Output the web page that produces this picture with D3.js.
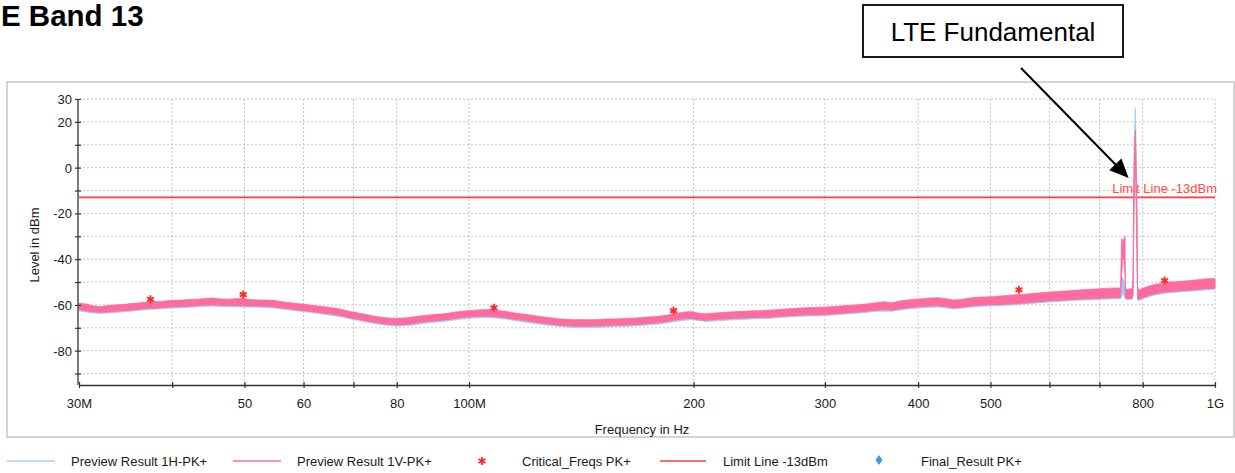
<!DOCTYPE html>
<html><head><meta charset="utf-8">
<script src="https://cdn.jsdelivr.net/npm/d3@7"></script>
<style>
html,body{margin:0;padding:0;background:#fff;}
svg{display:block;font-family:"Liberation Sans",Arial,sans-serif;}
</style></head><body>
<svg id="chart" width="1235" height="473"></svg>
<script>
// ---------------- data ----------------
const titleText = "E Band 13"; // visible part of the (left-cropped) title
const annotationText = "LTE Fundamental";
const annotationTarget = [766, -4.5]; // MHz, dBm (arrow tip)
const xTickValues = [30, 40, 50, 60, 70, 80, 100, 200, 300, 400, 500, 600, 700, 800, 1000]; // MHz
const xTickLabels = ["30M", "", "50", "60", "", "80", "100M", "200", "300", "400", "500", "", "", "800", "1G"];
const yTickValues = [-90, -80, -70, -60, -50, -40, -30, -20, -10, 0, 10, 20, 30];
const yTickLabels = ["", "-80", "", "-60", "", "-40", "", "-20", "", "0", "", "20", "30"];
const limitLevel = -13;
const limitLabel = "Limit Line -13dBm";
const xTitle = "Frequency in Hz";
const yTitle = "Level in dBm";

// Preview Result 1V-PK+ : [MHz, band low dBm, band high dBm]
const trace1V = [
[30,-62.0,-59.3],[30.7,-62.6,-59.6],[31.3,-63.0,-60.4],[32,-63.2,-60.8],[32.8,-63.1,-60.3],[33.5,-62.8,-60.0],
[34.4,-62.6,-59.8],[35.2,-62.3,-59.4],[36,-62.0,-59.2],[36.8,-61.6,-58.8],[37.6,-61.5,-58.5],[38.5,-61.4,-58.6],
[39.4,-61.0,-58.2],[40.3,-60.8,-58.0],[41.3,-60.7,-57.9],[42.3,-60.6,-57.6],[43.3,-60.3,-57.5],[44.3,-60.1,-57.2],
[45.3,-60.0,-57.0],[46.4,-60.2,-57.4],[47.5,-60.3,-57.5],[48.6,-60.2,-57.3],[49.8,-60.4,-57.2],[51,-60.4,-57.7],
[52.2,-60.5,-57.8],[53.5,-60.6,-57.9],[54.8,-60.9,-58.0],[56.1,-61.3,-58.6],[57.4,-61.7,-59.0],[58.8,-62.1,-59.4],
[60.2,-62.5,-59.7],[61.7,-62.9,-60.2],[63.2,-63.4,-60.6],[64.7,-63.8,-61.0],[66.3,-64.3,-61.5],[67.9,-65.0,-62.2],
[69.5,-65.7,-63.0],[71.2,-66.4,-63.6],[72.9,-67.0,-64.2],[74.6,-67.6,-64.9],[76.4,-68.1,-65.4],[78.3,-68.6,-65.8],
[80.2,-68.7,-65.8],[82.1,-68.6,-65.7],[84.1,-68.2,-65.3],[86.1,-67.6,-64.8],[88.2,-67.2,-64.5],[90.3,-66.9,-64.1],
[92.5,-66.6,-63.9],[94.7,-66.2,-63.4],[97,-65.7,-62.9],[99.3,-65.3,-62.6],[101.7,-65.1,-62.3],[104.2,-64.9,-62.1],
[106.7,-64.9,-62.0],[109.2,-65.2,-62.4],[111.9,-65.6,-62.8],[114.6,-66.2,-63.4],[117.3,-66.6,-63.9],[120.2,-67.1,-64.3],
[123.1,-67.6,-64.8],[126,-68.1,-65.3],[129.1,-68.5,-65.7],[132.2,-68.9,-66.1],[135.4,-69.1,-66.3],[138.6,-69.3,-66.5],
[142,-69.3,-66.4],[145.4,-69.3,-66.5],[148.9,-69.2,-66.4],[152.5,-69.0,-66.2],[156.2,-68.9,-66.1],[160,-68.8,-66.0],
[163.8,-68.7,-65.8],[167.8,-68.6,-65.7],[171.8,-68.3,-65.4],[176,-68.0,-65.2],[180.2,-67.7,-64.9],[184.6,-67.2,-64.4],
[189,-66.6,-63.8],[193.6,-66.1,-63.2],[198.3,-65.8,-62.9],[203.1,-66.5,-63.6],[208,-66.7,-63.9],[213,-66.4,-63.6],
[218.2,-66.2,-63.3],[223.5,-66.0,-63.1],[228.9,-65.8,-62.9],[234.4,-65.7,-62.8],[240.1,-65.5,-62.6],[245.9,-65.4,-62.5],
[251.8,-65.4,-62.3],[257.9,-65.2,-62.1],[264.1,-64.9,-61.9],[270.5,-64.7,-61.6],[277,-64.5,-61.4],[283.7,-64.3,-61.2],
[290.6,-64.3,-61.1],[297.6,-64.2,-61.0],[304.8,-64.0,-60.8],[312.1,-63.8,-60.6],[319.7,-63.5,-60.3],[327.4,-63.3,-60.1],
[335.3,-63.0,-59.8],[343.4,-62.7,-59.5],[351.7,-62.3,-59.0],[360.2,-61.9,-58.6],[368.9,-62.3,-59.1],[377.8,-61.7,-58.3],
[386.9,-61.3,-57.9],[396.3,-60.9,-57.5],[405.8,-60.7,-57.3],[415.6,-60.5,-57.0],[425.7,-60.4,-56.9],[436,-60.7,-57.3],
[446.5,-61.3,-57.9],[457.3,-61.1,-57.6],[468.3,-60.5,-57.0],[479.7,-60.2,-56.7],[491.3,-60.0,-56.5],[503.1,-59.9,-56.4],
[515.3,-59.8,-56.1],[527.7,-59.6,-55.9],[540.5,-59.4,-55.6],[553.5,-59.2,-55.4],[566.9,-58.9,-55.1],[580.6,-58.6,-54.8],
[594.6,-58.3,-54.5],[609,-58.1,-54.2],[623.7,-57.9,-54.0],[638.8,-57.7,-53.8],[654.2,-57.5,-53.5],[670,-57.3,-53.3],
[686.2,-57.2,-53.1],[702.8,-57.0,-52.9],[719.8,-56.9,-52.7],[737.2,-56.8,-52.6],[747,-56.8,-52.6],[749.5,-48,-31],
[752,-40,-32.5],[755,-40,-31],[757.5,-48,-30],[758.5,-57,-53],[762,-57.3,-53.2],[768,-57.2,-53.0],
[774,-57.1,-52.9],[776.5,-56,-50],[778,-30,-10],[780,-5,10],[782,5,16.4],[784,-15,0],
[786,-40,-20],[787.5,-57,-52],[790,-57.6,-53.6],[795,-57.2,-53.1],[805,-56.5,-52.4],[817,-55.8,-51.7],
[830,-55.2,-51.1],[843,-54.8,-50.7],[856,-54.4,-50.3],[870,-54.2,-50.0],[884,-54.0,-49.9],[899,-53.8,-49.7],
[914,-53.6,-49.5],[929,-53.5,-49.3],[944,-53.3,-49.1],[960,-53.0,-48.8],[976,-52.9,-48.6],[992,-52.8,-48.5],
[1000,-52.7,-48.5]
];

// Preview Result 1H-PK+ : [MHz, band low dBm, band high dBm]
const trace1H = [
[30,-62.6,-59.6],[31,-63.4,-60.4],[32,-63.8,-61.0],[33,-63.5,-60.6],[34.5,-63.0,-60.2],[36,-62.4,-59.6],
[37.6,-61.9,-59.0],[39.4,-61.5,-58.6],[41.3,-61.2,-58.3],[43.3,-60.8,-57.9],[45.3,-60.5,-57.4],[47.5,-60.8,-57.8],
[49.8,-60.9,-57.6],[52.2,-61.0,-58.2],[54.8,-61.4,-58.5],[57.4,-62.2,-59.4],[60.2,-63.0,-60.1],[63.2,-63.9,-61.0],
[66.3,-64.8,-61.9],[69.5,-66.2,-63.4],[72.9,-67.5,-64.6],[76.4,-68.7,-65.8],[80.2,-69.3,-66.3],[84.1,-68.8,-65.8],
[88.2,-67.8,-64.9],[92.5,-67.2,-64.3],[97,-66.3,-63.4],[101.7,-65.7,-62.8],[106.7,-65.5,-62.5],[111.9,-66.2,-63.3],
[117.3,-67.2,-64.3],[123.1,-68.2,-65.3],[129.1,-69.1,-66.2],[135.4,-69.7,-66.8],[142,-69.9,-66.9],[148.9,-69.8,-66.9],
[156.2,-69.5,-66.6],[163.8,-69.3,-66.3],[171.8,-68.9,-65.9],[180.2,-68.3,-65.4],[189,-67.2,-64.3],[198.3,-66.4,-63.4],
[208,-67.2,-64.2],[218.2,-66.8,-63.8],[228.9,-66.4,-63.3],[240.1,-66.1,-63.0],[251.8,-65.9,-62.8],[264.1,-65.4,-62.3],
[277,-65.0,-61.8],[290.6,-64.8,-61.5],[304.8,-64.5,-61.2],[319.7,-64.0,-60.7],[335.3,-63.5,-60.2],[351.7,-62.8,-59.4],
[368.9,-62.8,-59.5],[386.9,-61.8,-58.3],[405.8,-61.2,-57.7],[425.7,-60.9,-57.3],[446.5,-61.8,-58.3],[468.3,-61.0,-57.4],
[491.3,-60.5,-56.9],[515.3,-60.3,-56.5],[540.5,-59.9,-56.0],[566.9,-59.4,-55.5],[594.6,-58.8,-54.9],[623.7,-58.4,-54.4],
[654.2,-58.0,-53.9],[686.2,-57.7,-53.5],[719.8,-57.4,-53.1],[747,-57.3,-53.0],[750,-56,-47.5],[754,-55.5,-49],
[757.5,-57,-52],[762,-57.8,-53.6],[774,-57.6,-53.3],[776.5,-56,-48],[778,-30,-5],[780,-2,15],
[782,8,25.9],[784,-12,8],[786,-38,-15],[787.5,-58,-52],[790,-58.2,-54],[805,-57,-52.8],
[830,-55.7,-51.5],[856,-54.9,-50.7],[884,-54.5,-50.3],[914,-54.1,-49.9],[944,-53.8,-49.5],[976,-53.4,-49.0],
[1000,-53.2,-48.8]
];

// Critical_Freqs PK+ : [MHz, dBm]
const criticalFreqs = [[37.4,-57.5],[49.8,-55.5],[108,-61.2],[188,-62.5],[546,-53.4],[856,-49.3]];

const legendLabels = ["Preview Result 1H-PK+", "Preview Result 1V-PK+", "Critical_Freqs PK+", "Limit Line -13dBm", "Final_Result PK+"];

// ---------------- styles ----------------
const C = {
  blue: "#9ccbf5", pink: "#ff6b9d", red: "#ff2a2a", limit: "#ff3b3b",
  grid: "#c4c4c4", axis: "#333", text: "#1a1a1a", frame: "#c6c6c6", diamond: "#3a9be6"
};

const svg = d3.select("#chart");
const x = d3.scaleLog().domain([30, 1000]).range([79, 1215]);
const y = d3.scaleLinear().domain([-95, 30]).range([385, 99]);

// outer frame
svg.append("rect").attr("x", 7).attr("y", 82).attr("width", 1227).attr("height", 355)
  .attr("fill", "none").attr("stroke", C.frame).attr("stroke-width", 1.5);

// title
svg.append("text").attr("x", 1).attr("y", 26).attr("text-anchor", "start")
  .attr("font-size", 29.5).attr("font-weight", "bold").attr("fill", "#000").text(titleText);

// grid
const g = svg.append("g");
g.selectAll(".hg").data(yTickValues.filter(v => v > -95)).enter().append("line")
  .attr("x1", x(30)).attr("x2", x(1000)).attr("y1", d => y(d)).attr("y2", d => y(d))
  .attr("stroke", C.grid).attr("stroke-dasharray", "2,2").attr("stroke-width", 1);
g.selectAll(".vg").data(xTickValues.slice(1)).enter().append("line")
  .attr("x1", d => x(d)).attr("x2", d => x(d)).attr("y1", y(30)).attr("y2", y(-95))
  .attr("stroke", C.grid).attr("stroke-dasharray", "2,2").attr("stroke-width", 1);

// limit line
svg.append("line").attr("x1", x(30)).attr("x2", x(1000)).attr("y1", y(limitLevel)).attr("y2", y(limitLevel))
  .attr("stroke", C.limit).attr("stroke-width", 1.6);
svg.append("text").attr("x", x(1000) + 2).attr("y", y(limitLevel) - 4).attr("text-anchor", "end")
  .attr("font-size", 13).attr("fill", "#ff4d4d").text(limitLabel);

// traces as peak-hold bands
const area = d3.area().x(d => x(d[0])).y0(d => y(d[1])).y1(d => y(d[2]));
svg.append("path").datum(trace1H).attr("d", area)
  .attr("fill", C.blue).attr("stroke", C.blue).attr("stroke-width", 0.8);
svg.append("path").datum(trace1V).attr("d", area)
  .attr("fill", C.pink).attr("stroke", C.pink).attr("stroke-width", 0.8);

// critical freqs markers
const star = d3.symbol().type(d3.symbolAsterisk).size(45);
svg.selectAll(".cf").data(criticalFreqs).enter().append("path")
  .attr("transform", d => `translate(${x(d[0])},${y(d[1])})`)
  .attr("d", star).attr("fill", "none").attr("stroke", C.red).attr("stroke-width", 1.8);
svg.selectAll(".cfc").data(criticalFreqs).enter().append("circle")
  .attr("cx", d => x(d[0])).attr("cy", d => y(d[1])).attr("r", 2).attr("fill", C.red);

// axes
const xAxis = svg.append("g").attr("transform", `translate(0,${y(-95)})`)
  .call(d3.axisBottom(x).tickValues(xTickValues).tickSizeOuter(0).tickSizeInner(3)
    .tickFormat((d, i) => xTickLabels[i]));
xAxis.select(".domain").attr("stroke", C.axis).attr("stroke-width", 1.3);
xAxis.selectAll(".tick line").attr("y1", -3).attr("y2", 3).attr("stroke", C.axis).attr("stroke-width", 1.2);
xAxis.selectAll(".tick text").attr("y", 23).attr("dy", 0).attr("font-size", 13)
  .attr("font-family", "Liberation Sans, Arial, sans-serif").attr("fill", C.text);

const yAxis = svg.append("g").attr("transform", `translate(${x(30) - 1},0)`)
  .call(d3.axisLeft(y).tickValues(yTickValues).tickSizeOuter(0).tickSizeInner(3)
    .tickFormat((d, i) => yTickLabels[i]));
yAxis.select(".domain").attr("stroke", C.axis).attr("stroke-width", 1.3)
  .attr("d", `M0,${y(30)}V${y(-95)}`);
yAxis.selectAll(".tick line").attr("x1", -3).attr("x2", 3).attr("stroke", C.axis).attr("stroke-width", 1.2);
yAxis.selectAll(".tick text").attr("x", -6).attr("dy", "0.35em").attr("font-size", 13)
  .attr("font-family", "Liberation Sans, Arial, sans-serif").attr("fill", C.text);

// axis titles
svg.append("text").attr("x", 642).attr("y", 434).attr("text-anchor", "middle")
  .attr("font-size", 13).attr("fill", C.text).text(xTitle);
svg.append("text").attr("transform", "translate(39,245) rotate(-90)").attr("text-anchor", "middle")
  .attr("font-size", 13).attr("fill", C.text).text(yTitle);

// annotation
svg.append("rect").attr("x", 863).attr("y", 5).attr("width", 260).attr("height", 52)
  .attr("fill", "#fff").attr("stroke", "#000").attr("stroke-width", 1.8);
svg.append("text").attr("x", 993).attr("y", 41).attr("text-anchor", "middle")
  .attr("font-size", 26).attr("fill", "#000").text(annotationText);
{
  const x0 = 1021, y0 = 68;
  const tx = x(annotationTarget[0]), ty = y(annotationTarget[1]);
  const dx = tx - x0, dy = ty - y0, L = Math.hypot(dx, dy), ux = dx / L, uy = dy / L;
  const hl = 19, hw = 8.5;
  const bx = tx - ux * hl, by = ty - uy * hl;
  svg.append("line").attr("x1", x0).attr("y1", y0).attr("x2", bx + ux * 2).attr("y2", by + uy * 2)
    .attr("stroke", "#000").attr("stroke-width", 2);
  svg.append("path").attr("d", `M${tx},${ty}L${bx - uy * hw},${by + ux * hw}L${bx + uy * hw},${by - ux * hw}Z`)
    .attr("fill", "#000");
}

// legend
const lg = svg.append("g").attr("font-size", 13).attr("fill", C.text);
const ly = 461;
lg.append("line").attr("x1", 7).attr("x2", 55).attr("y1", ly).attr("y2", ly).attr("stroke", "#a6d0f7").attr("stroke-width", 1.5);
lg.append("text").attr("x", 71).attr("y", ly + 5).text(legendLabels[0]);
lg.append("line").attr("x1", 233).attr("x2", 281).attr("y1", ly).attr("y2", ly).attr("stroke", C.pink).attr("stroke-width", 1.5);
lg.append("text").attr("x", 297).attr("y", ly + 5).text(legendLabels[1]);
lg.append("path").attr("transform", `translate(482,${ly})`).attr("d", star).attr("fill", "none").attr("stroke", C.red).attr("stroke-width", 1.8);
lg.append("circle").attr("cx", 482).attr("cy", ly).attr("r", 2).attr("fill", C.red);
lg.append("text").attr("x", 522).attr("y", ly + 5).text(legendLabels[2]);
lg.append("line").attr("x1", 660).attr("x2", 706).attr("y1", ly).attr("y2", ly).attr("stroke", C.limit).attr("stroke-width", 1.5);
lg.append("text").attr("x", 723).attr("y", ly + 5).text(legendLabels[3]);
lg.append("path").attr("transform", `translate(879,${ly - 1})`).attr("d", "M0,-5L3.5,0L0,5L-3.5,0Z").attr("fill", C.diamond);
lg.append("text").attr("x", 921).attr("y", ly + 5).text(legendLabels[4]);
</script>
</body></html>
